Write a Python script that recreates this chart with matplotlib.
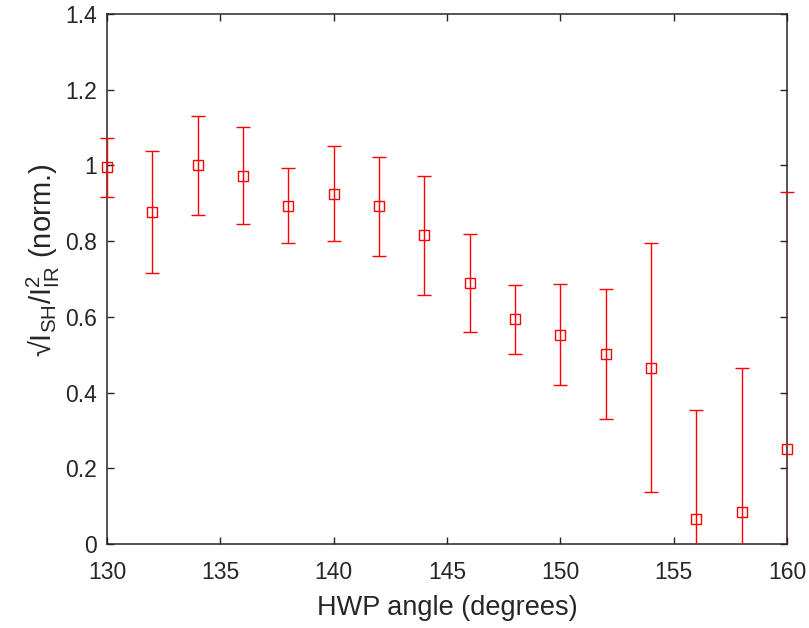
import numpy as np
import matplotlib
matplotlib.use("Agg")
import matplotlib.pyplot as plt
from matplotlib.transforms import Bbox, TransformedBbox

plt.rcParams['font.family'] = ['Liberation Sans', 'DejaVu Sans']
plt.rcParams['mathtext.fontset'] = 'custom'
plt.rcParams['mathtext.rm'] = 'Liberation Sans'
plt.rcParams['mathtext.it'] = 'Liberation Sans:italic'

# data
angle = [130, 132, 134, 136, 138, 140, 142, 144, 146, 148, 150, 152, 154, 156, 158, 160]
signal = [0.995, 0.878, 1.000, 0.973, 0.894, 0.925, 0.892, 0.815,
          0.690, 0.594, 0.553, 0.502, 0.466, 0.066, 0.084, 0.250]
err = [0.078, 0.161, 0.130, 0.129, 0.099, 0.125, 0.131, 0.158,
       0.129, 0.091, 0.133, 0.171, 0.328, 0.288, 0.381, 0.681]

x_ticks = [130, 135, 140, 145, 150, 155, 160]
y_ticks = [0, 0.2, 0.4, 0.6, 0.8, 1, 1.2, 1.4]
y_labels = ['0', '0.2', '0.4', '0.6', '0.8', '1', '1.2', '1.4']

dark = '#262626'

fig = plt.figure(figsize=(8.09, 6.28), dpi=100)
ax = fig.add_axes([0.1323, 0.1338, 0.8405, 0.8439])

line, caps, bars = ax.errorbar(angle, signal, yerr=err, fmt='s', color='red',
                               ecolor='red', elinewidth=1.0, capsize=4.7,
                               capthick=1.0, markersize=7.2,
                               markerfacecolor='none', markeredgewidth=1.0,
                               zorder=3)
line.set_clip_on(False)
# keep caps visible past the left/right spines but cut them below zero
clip = TransformedBbox(Bbox([[120, 0], [170, 1.4]]), ax.transData)
for c in caps:
    c.set_clip_box(clip)

ax.set_xlim(130, 160)
ax.set_ylim(0, 1.4)
ax.set_xticks(x_ticks)
ax.set_yticks(y_ticks)
ax.set_yticklabels(y_labels)

ax.tick_params(direction='in', length=5, width=1.0, colors=dark,
               labelsize=16.5, top=True, right=True)
ax.tick_params(axis='x', pad=12)
ax.tick_params(axis='y', pad=7)
for s in ax.spines.values():
    s.set_color(dark)
    s.set_linewidth(1.1)

ax.set_xlabel('HWP angle (degrees)', fontsize=19.5, color=dark, va='center')
ax.xaxis.set_label_coords(0.5, -0.121)
ax.set_ylabel('\u221aI$_{\\mathrm{SH}}$/I$^{2}_{\\mathrm{IR}}$ (norm.)',
              fontsize=21, color=dark, va='center')
ax.yaxis.set_label_coords(-0.094, 0.536)

fig.savefig('out.png', dpi=100)
